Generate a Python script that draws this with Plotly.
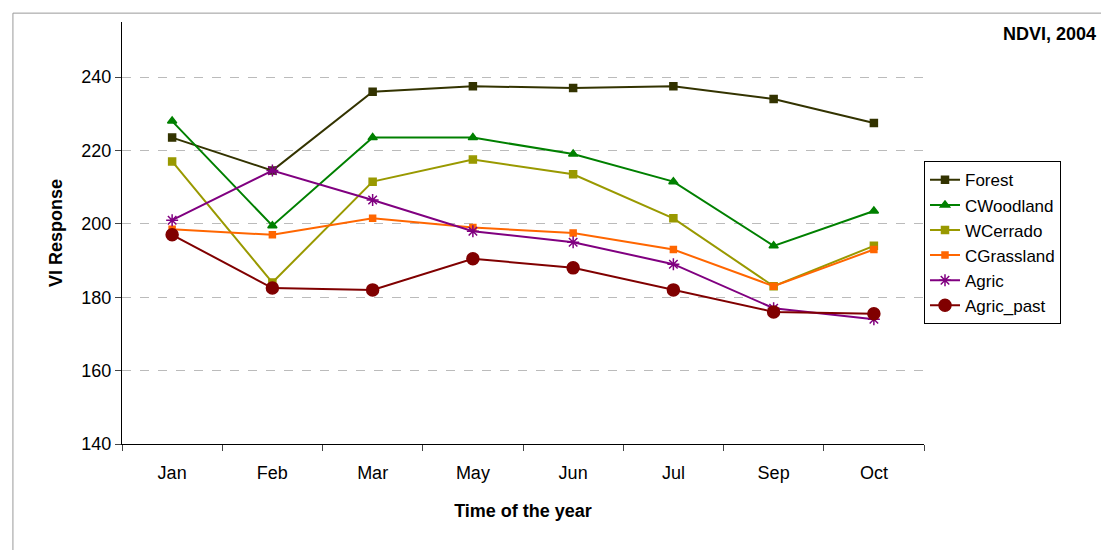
import plotly.graph_objects as go

months = ['Jan', 'Feb', 'Mar', 'May', 'Jun', 'Jul', 'Sep', 'Oct']
forest = [223.5, 214.5, 236, 237.5, 237, 237.5, 234, 227.5]
cwoodland = [228, 199.5, 223.5, 223.5, 219, 211.5, 194, 203.5]
wcerrado = [217, 184, 211.5, 217.5, 213.5, 201.5, 183, 194]
cgrassland = [198.5, 197, 201.5, 199, 197.5, 193, 183, 193]
agric = [201, 214.5, 206.5, 198, 195, 189, 177, 174]
agric_past = [197, 182.5, 182, 190.5, 188, 182, 176, 175.5]

series = [
    ('Forest', forest, '#333300', 'square', 7),
    ('CWoodland', cwoodland, '#008000', 'triangle-up', 8),
    ('WCerrado', wcerrado, '#999900', 'square', 7),
    ('CGrassland', cgrassland, '#FF6600', 'square', 6),
    ('Agric', agric, '#800080', 'asterisk-open', 10),
    ('Agric_past', agric_past, '#800000', 'circle', 12),
]

fig = go.Figure()
for name, vals, col, sym, size in series:
    fig.add_trace(go.Scatter(
        x=months, y=vals, name=name, mode='lines+markers',
        line=dict(color=col, width=2),
        marker=dict(symbol=sym, size=size, color=col, line=dict(color=col, width=1.5)),
    ))

fig.update_layout(
    width=1109, height=550,
    margin=dict(l=114, r=193, t=14, b=114),
    paper_bgcolor='white', plot_bgcolor='white',
    font=dict(family='Arial, Liberation Sans', size=18, color='black'),
    legend=dict(x=1.0, y=0.67, xanchor='left', yanchor='top',
                bordercolor='black', borderwidth=1, font=dict(size=17),
                tracegroupgap=6),
    annotations=[dict(text='<b>NDVI, 2004</b>', xref='paper', yref='paper',
                      x=1.217, y=1.0, xanchor='right', yanchor='top',
                      showarrow=False, font=dict(size=18))],
    shapes=[dict(type='rect', xref='paper', yref='paper', x0=-0.136, x1=1.236,
                 y0=-0.265, y1=1.021, line=dict(color='#999999', width=1))],
)
fig.update_xaxes(
    title=dict(text='<b>Time of the year</b>', standoff=22, font=dict(size=18)),
    range=[-0.5, 7.5], showline=True, linecolor='black', linewidth=1,
    ticks='outside', ticklen=6, tickson='boundaries', showgrid=False,
    ticklabelstandoff=12,
)
fig.update_yaxes(
    title=dict(text='<b>VI Response</b>', standoff=14, font=dict(size=18)),
    range=[140, 255], tickvals=[140, 160, 180, 200, 220, 240],
    showline=True, linecolor='black', linewidth=1, ticks='outside', ticklen=6,
    showgrid=True, gridcolor='#bbbbbb', griddash='dash', zeroline=False,
)

fig.write_html('out.html')
